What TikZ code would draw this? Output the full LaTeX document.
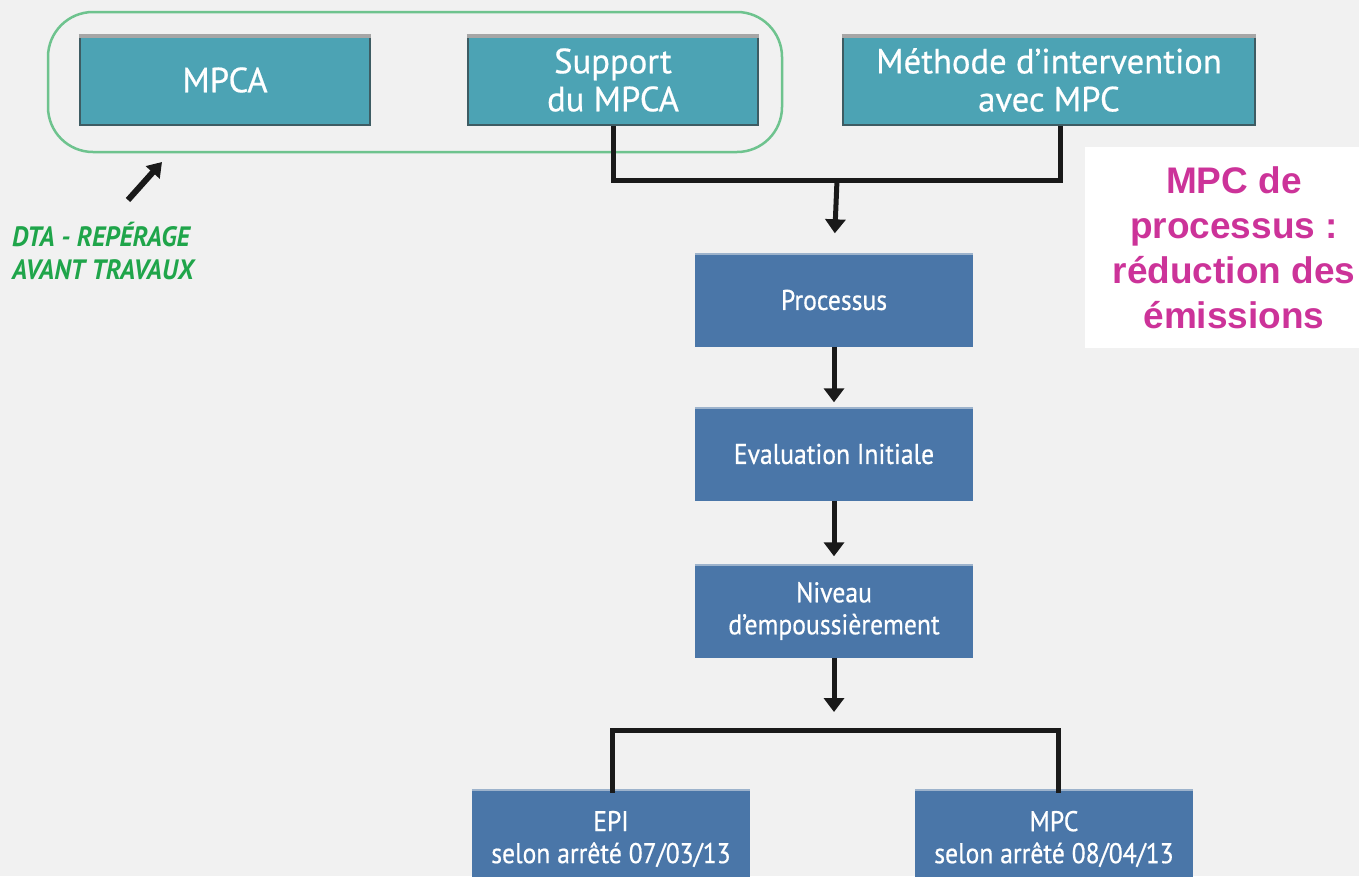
\documentclass[tikz,border=0pt]{standalone}
\usepackage{fontspec}
\setmainfont{Liberation Sans}
\newfontfamily\topfont[FakeStretch=0.99,FakeBold=0.6]{PT Sans}
\newfontfamily\cond[FakeStretch=0.9,FakeBold=0.6]{PT Sans}
\newfontfamily\dtafont[FakeStretch=0.93]{PT Sans}
\newfontfamily\magfont{Liberation Sans}
\usetikzlibrary{arrows.meta,calc}
\definecolor{bgc}{HTML}{F1F1F1}
\definecolor{teal}{HTML}{4CA3B4}
\definecolor{tealedge}{HTML}{3E5C63}
\definecolor{blueb}{HTML}{4A76A8}
\definecolor{bluetop}{HTML}{9DB3CC}
\definecolor{grline}{HTML}{6EC38E}
\definecolor{grtext}{HTML}{1FA54A}
\definecolor{mag}{HTML}{CC3399}
\definecolor{ink}{HTML}{1A1A1A}
\tikzset{
  topbox/.style={draw=tealedge, line width=2.5pt, fill=teal, text=white, minimum height=90pt, inner sep=0pt, align=center, font=\topfont\fontsize{35}{38}\selectfont},
  flowbox/.style={fill=blueb, text=white, minimum width=278pt, minimum height=93pt, inner sep=0pt, align=center, font=\cond\fontsize{28.5}{32}\selectfont},
  wire/.style={draw=ink, line width=5pt},
  flowarrow/.style={draw=ink, line width=5pt, -{Triangle[width=20pt,length=14pt]}},
}
\begin{document}
\begin{tikzpicture}[x=1pt,y=-1pt]
\fill[bgc] (0,0) rectangle (1359,876);
\useasboundingbox (0,0) rectangle (1359,876);
% green group
\node[draw=grline, line width=2.5pt, rounded corners=45pt, minimum width=734pt, minimum height=140pt] (grp) at (415,82) {};
% top boxes
\node[topbox, minimum width=290pt] (mpca) at (225,80) {MPCA};
\node[topbox, minimum width=290pt] (sup) at (613,80) {Support\\du MPCA};
\node[topbox, minimum width=412pt] (meth) at (1049,80) {Méthode d’intervention\\avec MPC};
\foreach \n in {mpca,sup,meth}{\draw[gray!70, line width=4pt] ([yshift=-2pt]\n.north west) -- ([yshift=-2pt]\n.north east);}
% flow boxes
\node[flowbox] (proc) at (834,300) {Processus};
\node[flowbox] (eval) at (834,454) {Evaluation Initiale};
\node[flowbox] (niv) at (834,611) {Niveau\\d’empoussièrement};
\node[flowbox, minimum width=278pt, minimum height=100pt] (epi) at (611,839) {EPI\\selon arrêté 07/03/13};
\node[flowbox, minimum width=278pt, minimum height=100pt] (mpc) at (1054,839) {MPC\\selon arrêté 08/04/13};
\foreach \n in {proc,eval,niv,epi,mpc}{\draw[bluetop, line width=2pt] ([yshift=-1pt]\n.north west) -- ([yshift=-1pt]\n.north east);}
% connectors
\coordinate (j1) at (837,180);
\coordinate (j2) at (834,730);
\draw[wire] (sup.south) |- (j1) -| ([xshift=11pt]meth.south);
\draw[flowarrow, shorten >=20pt] (j1) -- (proc.north);
\draw[flowarrow, shorten >=5pt] (proc.south) -- (eval.north);
\draw[flowarrow, shorten >=8pt] (eval.south) -- (niv.north);
\draw[flowarrow, shorten >=18pt] (niv.south) -- (j2);
\coordinate (bl) at (612,730);
\coordinate (br) at (1058,730);
\draw[wire] ([yshift=-4pt]epi.north -| bl) -- (bl) -- (br) -- ([yshift=-4pt]epi.north -| br);
% DTA arrow and label
\coordinate (da) at (128,200);
\coordinate (db) at (162,162);
\draw[draw=ink, line width=6pt, -{Triangle[width=18pt,length=14pt]}] (da) -- (db);
\node[anchor=west, text=grtext, inner sep=0pt, align=left, font=\dtafont\bfseries\itshape\fontsize{28}{33}\selectfont] (dta) at (12,251) {DTA - REPÉRAGE\\AVANT TRAVAUX};
% magenta note
\fill[white] (1085,147) rectangle (1359,348);
\node[inner sep=0pt, align=center, text=mag, font=\magfont\bfseries\fontsize{37}{45}\selectfont] (note) at (1234,247.5) {MPC de\\processus :\\réduction des\\émissions};
\end{tikzpicture}
\end{document}
